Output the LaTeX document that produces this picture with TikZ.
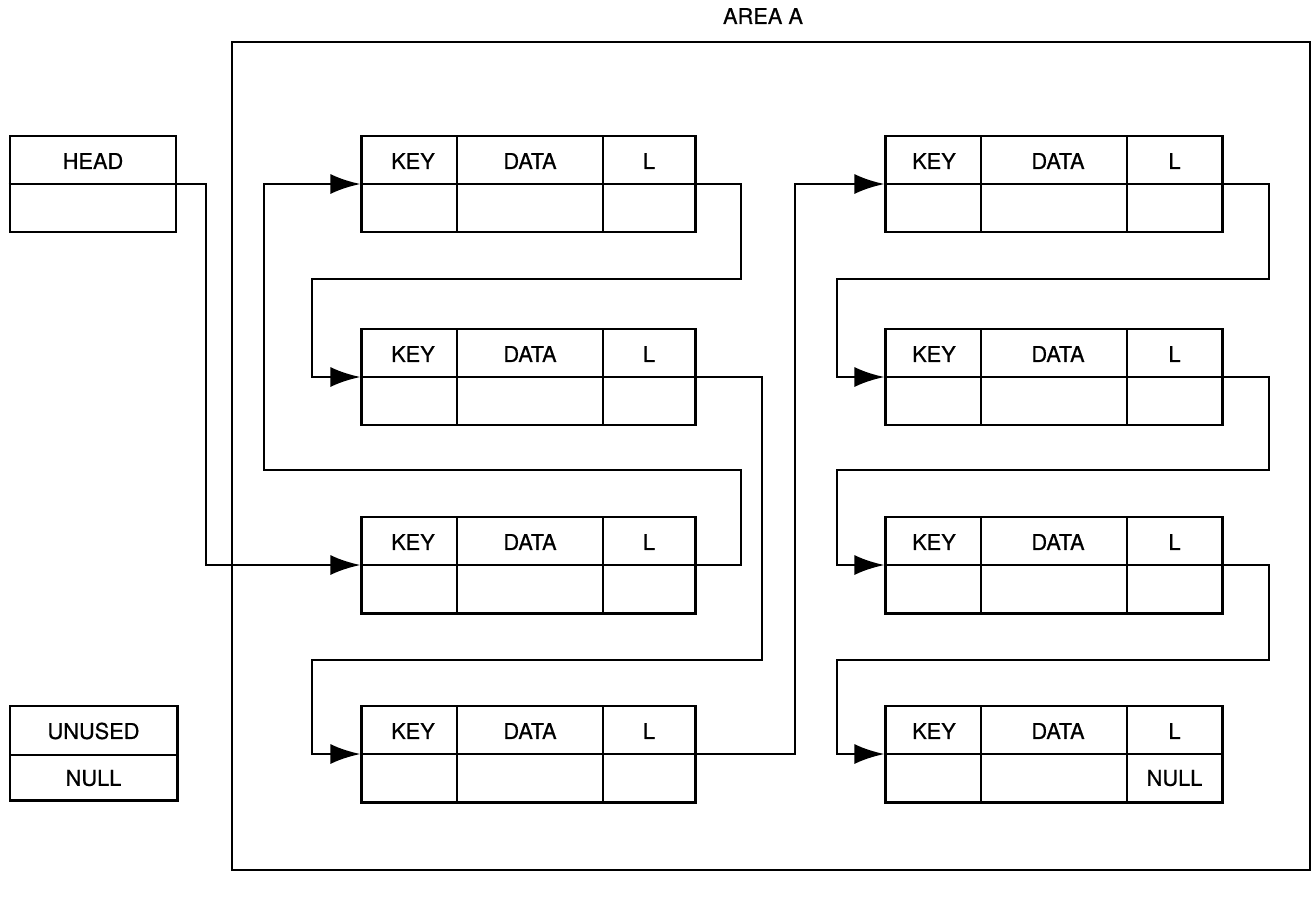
\documentclass[tikz,border=0pt]{standalone}
\usepackage{fontspec}
\setmainfont{TeX Gyre Heros}[FakeBold=0.6]
\usetikzlibrary{arrows.meta}
\begin{document}
\begin{tikzpicture}[x=0.025cm, y=-0.025cm, line width=2.1pt,
  font=\fontsize{15.5}{18}\selectfont,
  rec/.style={draw, minimum width=8.325cm, minimum height=2.4cm, inner sep=0pt},
  recb/.style={rec, minimum width=8.4cm},
  ptr/.style={-{Latex[length=7.5mm, width=5mm]}}]
\useasboundingbox (0,0) rectangle (1316,897);
\node at (763,16) (area) {AREA A};
\draw[line width=1.5pt] (232,42) rectangle (1310,870);
% head and unused
\node[draw, minimum width=4.15cm, minimum height=2.4cm] at (93,184) (head) {};
\draw (head.west) -- (head.east);
\node at (93,161) (headtxt) {HEAD};
\node[draw, minimum width=4.175cm, minimum height=2.35cm] at (93.5,753) (unused) {};
\draw (10,755) -- (177,755);
\node at (93.5,731) (unusedtxt) {UNUSED};
\node at (93.5,778) (nulltxt) {NULL};
% left column
\node[rec] at (528.5,184) (a1) {};
\node[rec] at (528.5,377) (a2) {};
\node[rec] at (528.5,565) (a3) {};
\node[rec] at (528.5,754) (a4) {};
\draw (a1.west) -- (a1.east) (457,136) -- (457,232) (603,136) -- (603,232);
\draw (a2.west) -- (a2.east) (457,329) -- (457,425) (603,329) -- (603,425);
\draw (a3.west) -- (a3.east) (457,517) -- (457,613) (603,517) -- (603,613);
\draw (a4.west) -- (a4.east) (457,706) -- (457,802) (603,706) -- (603,802);
\node at (413,161) (k1) {KEY}; \node at (530,161) (d1) {DATA}; \node at (649,161) (l1) {L};
\node at (413,354) (k2) {KEY}; \node at (530,354) (d2) {DATA}; \node at (649,354) (l2) {L};
\node at (413,542) (k3) {KEY}; \node at (530,542) (d3) {DATA}; \node at (649,542) (l3) {L};
\node at (413,731) (k4) {KEY}; \node at (530,731) (d4) {DATA}; \node at (649,731) (l4) {L};
% right column
\node[recb] at (1054,184) (b1) {};
\node[recb] at (1054,377) (b2) {};
\node[recb] at (1054,565) (b3) {};
\node[recb] at (1054,754) (b4) {};
\draw (b1.west) -- (b1.east) (981,136) -- (981,232) (1127,136) -- (1127,232);
\draw (b2.west) -- (b2.east) (981,329) -- (981,425) (1127,329) -- (1127,425);
\draw (b3.west) -- (b3.east) (981,517) -- (981,613) (1127,517) -- (1127,613);
\draw (b4.west) -- (b4.east) (981,706) -- (981,802) (1127,706) -- (1127,802);
\node at (934,161) (k5) {KEY}; \node at (1058,161) (d5) {DATA}; \node at (1174.5,161) (l5) {L};
\node at (934,354) (k6) {KEY}; \node at (1058,354) (d6) {DATA}; \node at (1174.5,354) (l6) {L};
\node at (934,542) (k7) {KEY}; \node at (1058,542) (d7) {DATA}; \node at (1174.5,542) (l7) {L};
\node at (934,731) (k8) {KEY}; \node at (1058,731) (d8) {DATA}; \node at (1174.5,731) (l8) {L};
\node at (1174.5,778) (n8) {NULL};
% pointers
\draw[ptr] (head.east) -| (206,300) |- (a3.west);
\draw[ptr] (a3.east) -| (741,470) -- (264,470) |- (a1.west);
\draw[ptr] (a1.east) -| (741,279) -- (312,279) |- (a2.west);
\draw[ptr] (a2.east) -| (762,660) -- (312,660) |- (a4.west);
\draw[ptr] (a4.east) -| (795,300) |- (b1.west);
\draw[ptr] (b1.east) -| (1269,279) -- (837,279) |- (b2.west);
\draw[ptr] (b2.east) -| (1269,470) -- (837,470) |- (b3.west);
\draw[ptr] (b3.east) -| (1269,660) -- (837,660) |- (b4.west);
\end{tikzpicture}
\end{document}
